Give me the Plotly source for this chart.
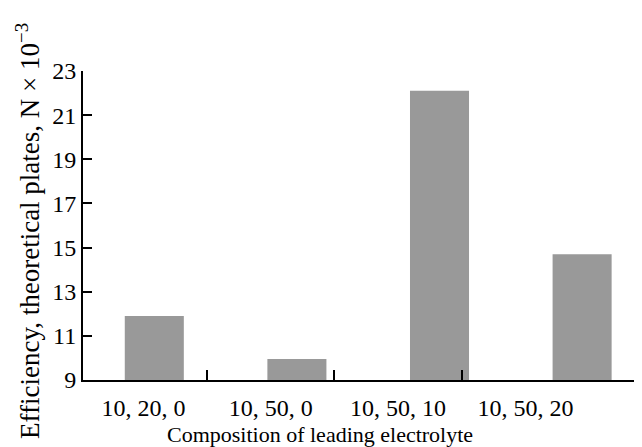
import plotly.graph_objects as go

categories = ["10, 20, 0", "10, 50, 0", "10, 50, 10", "10, 50, 20"]
efficiency = [11.9, 9.95, 22.1, 14.7]
y_ticks = [9, 11, 13, 15, 17, 19, 21, 23]

FONT = "Liberation Serif"

# page body has an 8px margin, so the figure is 8px smaller than the window
W, H = 634, 439
L, R, T, B = 75, 0, 63, 67
PW, PH = W - L - R, H - T - B

idx = list(range(len(categories)))
between = [i + 0.5 for i in idx[:-1]]

fig = go.Figure()
fig.add_trace(go.Bar(
    x=categories, y=efficiency, base=0,
    marker=dict(color="#999999", line=dict(width=0)),
    width=0.414, xaxis="x", yaxis="y", showlegend=False, hoverinfo="skip",
))
# helper traces so that the label / tick axes are drawn
for ax in ("x2", "x3"):
    fig.add_trace(go.Scatter(
        x=idx, y=efficiency, mode="none", xaxis=ax, yaxis="y",
        showlegend=False, hoverinfo="skip",
    ))

lab_range = [-0.475, 3.916]

fig.update_layout(
    width=W, height=H,
    margin=dict(l=L, r=R, t=T, b=B),
    paper_bgcolor="white", plot_bgcolor="white",
    font=dict(family=FONT, size=22, color="black"),
    xaxis=dict(
        type="category", range=[-0.5, 3.42], automargin=False,
        showline=False, showticklabels=False, ticks="", showgrid=False,
        zeroline=False,
    ),
    xaxis2=dict(
        overlaying="x", anchor="y", side="bottom", automargin=False,
        range=lab_range, showgrid=False, zeroline=False,
        showline=True, linecolor="black", linewidth=2,
        tickmode="array", tickvals=idx, ticktext=categories, ticks="",
        tickfont=dict(family=FONT, size=24), ticklabelstandoff=5,
    ),
    xaxis3=dict(
        overlaying="x", anchor="y", side="bottom", automargin=False,
        range=lab_range, showgrid=False, zeroline=False, showline=False,
        tickmode="array", tickvals=between, showticklabels=False,
        ticks="inside", ticklen=10, tickwidth=2, tickcolor="black",
    ),
    yaxis=dict(
        range=[9, 23], tickmode="array", tickvals=y_ticks, automargin=False,
        ticks="inside", ticklen=9, tickwidth=2, tickcolor="black",
        showline=True, linecolor="black", linewidth=2,
        showgrid=False, zeroline=False,
        tickfont=dict(family=FONT, size=24),
    ),
    annotations=[
        dict(text="Efficiency, theoretical plates, N × 10<sup>−3</sup>",
             xref="paper", yref="paper",
             x=(20 - L) / PW, y=(H - B - 223) / PH,
             xanchor="center", yanchor="middle", textangle=-90,
             showarrow=False, font=dict(family=FONT, size=27)),
        dict(text="Composition of leading electrolyte",
             xref="paper", yref="paper",
             x=(312 - L) / PW, y=(H - B - 426) / PH,
             xanchor="center", yanchor="middle",
             showarrow=False, font=dict(family=FONT, size=22)),
    ],
)

fig.write_html("out.html")
